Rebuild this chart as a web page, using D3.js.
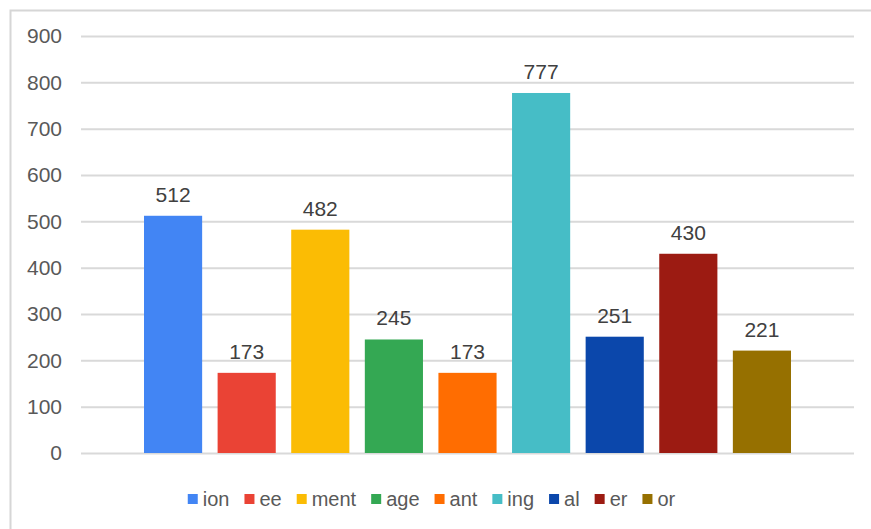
<!DOCTYPE html>
<html>
<head>
<meta charset="utf-8">
<script src="https://cdn.jsdelivr.net/npm/d3@7"></script>
<style>
  html, body { margin: 0; background: #fff; overflow: hidden; }
  svg { display: block; }
  text { font-family: "Liberation Sans", Arial, sans-serif; }
</style>
</head>
<body>
<svg id="canvas" width="871" height="529"></svg>
<script>
// one category, nine series (like a sheets clustered column chart)
const suffixes = ["ion", "ee", "ment", "age", "ant", "ing", "al", "er", "or"];
const counts = [512, 173, 482, 245, 173, 777, 251, 430, 221];
const colors = ["#4285F4", "#EA4335", "#FBBC04", "#34A853", "#FF6D01",
                "#46BDC6", "#0B47AB", "#9C1B12", "#967000"];
const yTicks = [0, 100, 200, 300, 400, 500, 600, 700, 800, 900];

const svg = d3.select('#canvas');

// outer frame, only top and left edges are visible
svg.append('path')
    .attr('d', 'M10.5,529V10.5H871')
    .attr('fill', 'none')
    .attr('stroke', '#d6d6d6')
    .attr('stroke-width', 2);

const plotLeft = 81, plotRight = 854;

let y = d3.scaleLinear().domain([0, 900]).range([453, 36]);
let x = d3.scaleBand().domain(suffixes).range([144, 791]).paddingInner(0.21);

// gridlines + tick labels
let yAxis = svg.append('g')
    .attr('transform', `translate(${plotLeft},0)`)
    .call(d3.axisLeft(y).tickValues(yTicks).tickSize(-(plotRight - plotLeft)).tickPadding(19));
yAxis.select('.domain').remove();
yAxis.selectAll('.tick line').attr('stroke', '#d9d9d9').attr('stroke-width', 2);
yAxis.selectAll('.tick text')
    .attr('fill', '#595959')
    .style('font-size', '21px')
    .style('font-family', '"Liberation Sans", Arial, sans-serif');

// bars
svg.append('g').selectAll('rect')
    .data(suffixes)
    .join('rect')
    .attr('x', d => x(d))
    .attr('y', (d, i) => y(counts[i]))
    .attr('width', x.bandwidth())
    .attr('height', (d, i) => y(0) - y(counts[i]))
    .attr('fill', (d, i) => colors[i]);

// value labels
svg.append('g').selectAll('text')
    .data(suffixes)
    .join('text')
    .attr('x', d => x(d) + x.bandwidth() / 2)
    .attr('y', (d, i) => y(counts[i]) - 14)
    .attr('text-anchor', 'middle')
    .attr('fill', '#404040')
    .style('font-size', '21px')
    .text((d, i) => counts[i]);

// legend, centred
let legend = svg.append('g');
let items = legend.selectAll('g')
    .data(suffixes)
    .join('g');
items.append('rect')
    .attr('width', 10).attr('height', 10)
    .attr('y', -10)
    .attr('fill', (d, i) => colors[i]);
items.append('text')
    .attr('x', 15)
    .attr('y', 2)
    .attr('fill', '#595959')
    .style('font-size', '20px')
    .text(d => d);

let pos = 0;
items.each(function () {
    let w = d3.select(this).select('text').node().getComputedTextLength();
    d3.select(this).attr('transform', `translate(${pos},0)`);
    pos += 15 + w + 15;
});
let total = pos - 15;
legend.attr('transform', `translate(${431.5 - total / 2},504)`);
</script>
</body>
</html>
